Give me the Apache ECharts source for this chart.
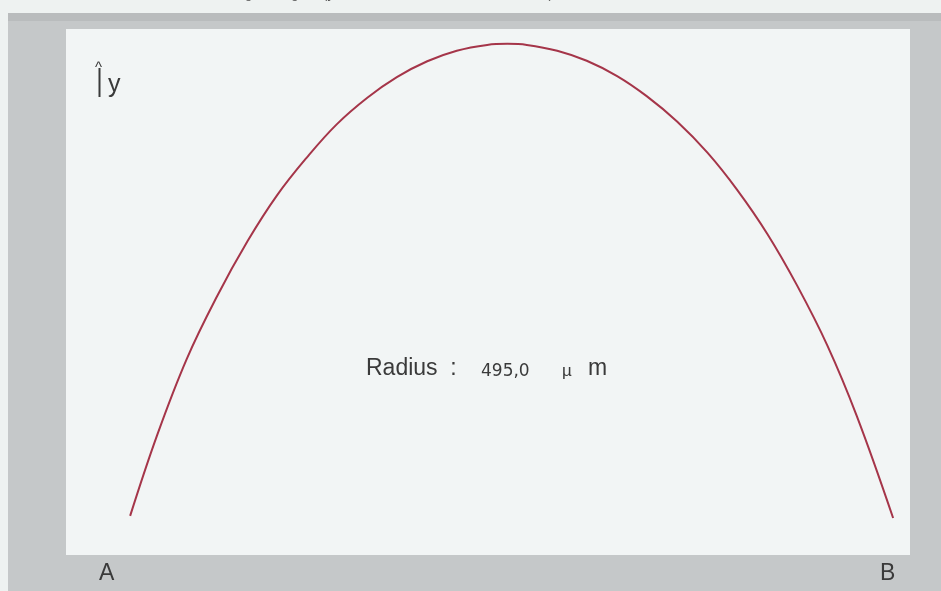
<!DOCTYPE html>
<html>
<head>
<meta charset="utf-8">
<script src="https://cdn.jsdelivr.net/npm/echarts@6/dist/echarts.min.js"></script>
<style>
html,body{margin:0;padding:0;background:#eef2f1;}
#chart{width:941px;height:591px;}
</style>
</head>
<body>
<div id="chart"></div>
<script>
// Profile positions along A–B (0 = left edge of plot, 100 = right edge)
const profileX = [7.6, 10.8, 14.3, 17.9, 21.5, 25.0, 28.6, 32.1, 35.7, 39.2, 42.8, 46.3, 49.9, 52.3,
                  54.6, 58.2, 61.7, 65.3, 68.8, 72.4, 76.0, 79.5, 83.1, 86.6, 90.2, 93.7, 98.0];
// Profile height (0 = bottom of plot, 100 = top of plot)
const profileY = [7.6, 22.9, 37.3, 49.2, 59.6, 68.3, 75.6, 81.8, 86.8, 90.7, 93.7, 95.7, 96.8, 97.0,
                  96.8, 95.7, 93.8, 90.9, 87.1, 82.3, 76.4, 69.4, 61.0, 51.3, 39.9, 26.5, 7.2];
const radiusLabel = "Radius  :";
const radiusValue = "495,0";
const radiusMu = "µ";
const radiusM = "m";
const endLabels = ["A", "B"];
const axisLabel = "y";
const headerText = "Profil der Kantenverrundung entlang AB (y-Achse zur x-Achse 10-fach überhöht)";

const points = profileX.map((x, i) => [x, profileY[i]]);

const font = '"Liberation Sans", Arial, sans-serif';
// place the (mostly cut off) header so that its first "g" sits where the reference shows it
const ctx = document.createElement('canvas').getContext('2d');
ctx.font = '13px ' + font;
const headerPrefix = ctx.measureText("Profil der Kantenverrundun").width;
const headerX = 245 - headerPrefix;

const chart = echarts.init(document.getElementById('chart'), null, {renderer: 'canvas'});
chart.setOption({
  backgroundColor: '#eef2f1',
  animation: false,
  grid: {left: 66, right: 31, top: 28, bottom: 35, show: false},
  xAxis: {type: 'value', min: 0, max: 100, show: false},
  yAxis: {type: 'value', min: 0, max: 100, show: false},
  graphic: {elements: [
    {type: 'rect', z: -20, shape: {x: 8, y: 13, width: 933, height: 578}, style: {fill: '#c5c8c9'}},
    {type: 'rect', z: -19, shape: {x: 8, y: 13, width: 933, height: 8}, style: {fill: '#b9bcbd'}},
    {type: 'rect', z: -10, shape: {x: 66, y: 29, width: 844, height: 526}, style: {fill: '#f2f5f5'}},
    {type: 'text', z: 10, x: headerX, y: -12, style: {text: headerText, font: '13px ' + font, fill: '#555', verticalAlign: 'top'}},
    {type: 'text', z: 10, x: 366, y: 357, style: {text: radiusLabel, font: '23px ' + font, fill: '#3a3a3a', verticalAlign: 'top'}},
    {type: 'text', z: 10, x: 481, y: 363, style: {text: radiusValue, font: '17px "DejaVu Sans", sans-serif', fill: '#3a3a3a', verticalAlign: 'top'}},
    {type: 'text', z: 10, x: 562, y: 363, style: {text: radiusMu, font: '17px ' + font, fill: '#3a3a3a', verticalAlign: 'top'}},
    {type: 'text', z: 10, x: 588, y: 357, style: {text: radiusM, font: '23px ' + font, fill: '#3a3a3a', verticalAlign: 'top'}},
    {type: 'text', z: 10, x: 99, y: 562, style: {text: endLabels[0], font: '23px ' + font, fill: '#3a3a3a', verticalAlign: 'top'}},
    {type: 'text', z: 10, x: 880, y: 562, style: {text: endLabels[1], font: '23px ' + font, fill: '#3a3a3a', verticalAlign: 'top'}},
    {type: 'text', z: 10, x: 95, y: 60, style: {text: '^', font: '15px ' + font, fill: '#3a3a3a', verticalAlign: 'top'}},
    {type: 'line', z: 10, shape: {x1: 99.5, y1: 68, x2: 99.5, y2: 97}, style: {stroke: '#3a3a3a', lineWidth: 2}},
    {type: 'text', z: 10, x: 108, y: 73, style: {text: axisLabel, font: '25px ' + font, fill: '#3a3a3a', verticalAlign: 'top'}}
  ]},
  series: [{
    type: 'line',
    data: points,
    smooth: 0.4,
    symbol: 'none',
    lineStyle: {color: '#a53549', width: 2}
  }]
});
</script>
</body>
</html>
